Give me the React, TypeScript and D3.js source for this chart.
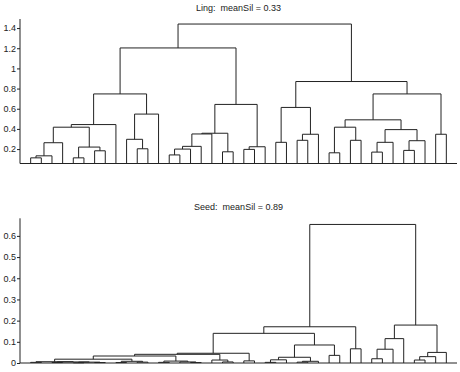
import { useEffect, useRef } from "react";
import * as d3 from "d3";

const WIDTH = 460;
const HEIGHT = 372;
const X_LEFT = 20;
const X_RIGHT = 457;
const LEAF_COUNT = 40;
const FONT = "'Liberation Sans', Arial, Helvetica, sans-serif";

// trees as "(a,b):height" — leaves are numbered 1..40 in plot order
const lingTree =
  "((((((((1,2):0.113,3):0.133,4):0.263,((5,6):0.113,(7,8):0.183):0.22):0.417,9):0.443," +
  "((10,(11,12):0.203):0.297,13):0.547):0.747," +
  "((((((14,15):0.142,16):0.2,17):0.227,18):0.35,(19,20):0.173):0.357,((21,22):0.197,23):0.223):0.643):1.203," +
  "(((24,25):0.267,((26,27):0.287,28):0.347):0.613," +
  "((((29,30):0.163,(31,32):0.287):0.417,(((33,34):0.17,35):0.267,((36,37):0.187,38):0.283):0.393):0.49," +
  "(39,40):0.347):0.747):0.87):1.44";

const seedTree =
  "(((((((((1,2):0.003,((3,4):0.002,((5,6):0.001,(7,8):0.002):0.004):0.005):0.006," +
  "((9,10):0.002,(11,12):0.004):0.008):0.018," +
  "((13,14):0.003,(15,(16,17):0.002):0.005):0.009):0.033," +
  "(18,(19,20):0.005):0.014):0.041,(21,22):0.01):0.046," +
  "((((23,24):0.003,25):0.015,((26,27):0.004,28):0.008):0.027,(29,30):0.036):0.085):0.14," +
  "(31,32):0.067):0.171," +
  "((((33,34):0.02,35):0.065,36):0.115,(((37,38):0.014,39):0.03,40):0.05):0.179):0.654";

const lingTicks = [0.2, 0.4, 0.6, 0.8, 1, 1.2, 1.4];
const seedTicks = [0, 0.1, 0.2, 0.3, 0.4, 0.5, 0.6];

type TreeNode = { leaf?: number; h: number; children?: TreeNode[] };

// tiny parser for the strings above
const parseTree = (s: string): TreeNode => {
  let i = 0;
  const readNum = () => {
    const start = i;
    while (i < s.length && /[0-9.]/.test(s[i])) i++;
    return +s.slice(start, i);
  };
  const node = (): TreeNode => {
    if (s[i] === "(") {
      i++;
      const a = node();
      i++; // ,
      const b = node();
      i++; // )
      i++; // :
      return { h: readNum(), children: [a, b] };
    }
    return { leaf: readNum(), h: 0 };
  };
  return node();
};

type PanelProps = {
  tree: string;
  title: string;
  titleY: number;
  ticks: number[];
  domain: [number, number];
  top: number;
  bottom: number;
};

const Dendrogram = ({ tree, title, titleY, ticks, domain, top, bottom }: PanelProps) => {
  const axisRef = useRef(null);

  const xScale = d3.scaleLinear().domain([0, LEAF_COUNT + 1]).range([X_LEFT, X_RIGHT]);
  const yScale = d3.scaleLinear().domain(domain).range([bottom, top]);

  const root = d3.hierarchy(parseTree(tree));
  const pos = new Map<any, { x: number; h: number }>();
  root.eachAfter((n) => {
    if (!n.children) {
      pos.set(n, { x: xScale(n.data.leaf!), h: domain[0] });
    } else {
      const [a, b] = n.children.map((c) => pos.get(c)!);
      pos.set(n, { x: (a.x + b.x) / 2, h: n.data.h });
    }
  });

  const links: string[] = [];
  root.each((n) => {
    if (!n.children) return;
    const p = pos.get(n)!;
    const [a, b] = n.children.map((c) => pos.get(c)!);
    links.push(
      `M${a.x},${yScale(Math.max(a.h, domain[0]))}V${yScale(p.h)}H${b.x}V${yScale(Math.max(b.h, domain[0]))}`
    );
  });

  useEffect(() => {
    const g = d3.select(axisRef.current);
    g.selectAll("*").remove();
    g.append("g")
      .attr("transform", `translate(${X_LEFT},0)`)
      .call(
        d3.axisLeft(yScale)
          .tickValues(ticks)
          .tickSize(3)
          .tickSizeOuter(0)
          .tickPadding(1)
          .tickFormat((d) => `${d}`)
      )
      .call((ax) => ax.select(".domain").remove())
      .call((ax) =>
        ax.selectAll("text").attr("font-family", FONT).attr("font-size", 9).attr("fill", "#222")
      )
      .call((ax) => ax.selectAll("line").attr("stroke", "#222"));
  }, [tree]);

  return (
    <g>
      <text
        x={(X_LEFT + X_RIGHT) / 2}
        y={titleY}
        textAnchor="middle"
        fontFamily={FONT}
        fontSize={9}
        fill="#222"
        style={{ whiteSpace: "pre" }}
      >
        {title}
      </text>
      <g fill="none" stroke="#222" strokeWidth={1}>
        {links.map((d, i) => (
          <path key={i} d={d} />
        ))}
      </g>
      <line x1={X_LEFT} x2={X_LEFT} y1={top} y2={bottom} stroke="#222" />
      <line x1={X_LEFT} x2={X_RIGHT} y1={bottom} y2={bottom} stroke="#222" />
      <g ref={axisRef} />
    </g>
  );
};

export default function App() {
  return (
    <svg
      width={WIDTH}
      height={HEIGHT}
      style={{ position: "absolute", left: 0, top: 0, background: "#fff" }}
    >
      <rect width={WIDTH} height={HEIGHT} fill="#fff" />
      <Dendrogram
        tree={lingTree}
        title="Ling:  meanSil = 0.33"
        titleY={10.5}
        ticks={lingTicks}
        domain={[0.057, 1.49]}
        top={19}
        bottom={163.5}
      />
      <Dendrogram
        tree={seedTree}
        title="Seed:  meanSil = 0.89"
        titleY={210}
        ticks={seedTicks}
        domain={[0, 0.683]}
        top={218.3}
        bottom={363}
      />
    </svg>
  );
}
